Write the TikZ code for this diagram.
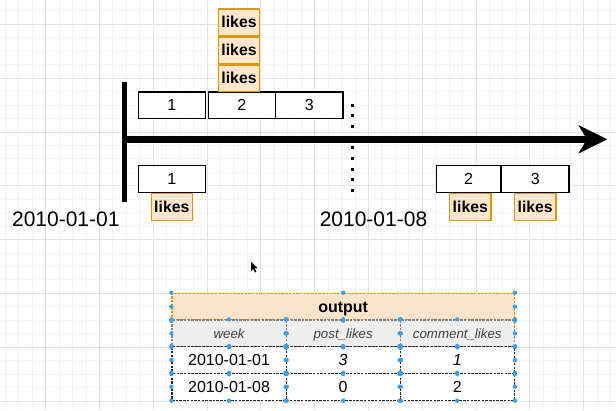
\documentclass[tikz,border=0pt]{standalone}
\usepackage{fontspec}
\setmainfont{Liberation Sans}
\usetikzlibrary{positioning}

\definecolor{likesfill}{HTML}{FFE6CC}
\definecolor{likesline}{HTML}{D79B00}
\definecolor{headfill}{HTML}{FCE3CB}
\definecolor{colfill}{HTML}{EEEEEE}
\definecolor{handle}{HTML}{429EE2}
\definecolor{gridminor}{HTML}{F3F3F3}
\definecolor{gridmajor}{HTML}{E2E2E2}

\begin{document}
\begin{tikzpicture}[x=1pt,y=-1pt,
  cell/.style={draw=black,line width=1.2pt,fill=white,minimum height=26.7pt,inner sep=0pt,font=\fontsize{16}{18}\selectfont},
  likes/.style={draw=likesline,line width=1.3pt,fill=likesfill,minimum width=41.3pt,minimum height=26.7pt,inner sep=0pt,font=\fontsize{15.8}{18}\selectfont\bfseries},
  date/.style={inner sep=0pt,font=\fontsize{21}{24}\selectfont},
  tabcell/.style={minimum width=114.1pt,minimum height=26.7pt,inner sep=0pt,text height=11.4pt,text depth=0pt,line width=1.2pt,dash pattern=on 2.5pt off 1.2pt,font=\fontsize{16}{18}\selectfont},
  colhead/.style={tabcell,draw=black!50,fill=colfill,text height=9.5pt,font=\fontsize{13.3}{16}\selectfont\itshape,text=black!75},
  datacell/.style={tabcell,draw=black!85,fill=white}]
\useasboundingbox (0,0) rectangle (616,410);

% Grid
\foreach \i in {0,...,45} \draw[gridminor,line width=0.8pt] ({5.2+13.45*\i},0) -- ({5.2+13.45*\i},410);
\foreach \i in {0,...,30} \draw[gridminor,line width=0.8pt] (0,{10.85+13.45*\i}) -- (616,{10.85+13.45*\i});
\foreach \i in {0,...,10} \draw[gridmajor,line width=0.8pt] ({45.5+53.8*\i},0) -- ({45.5+53.8*\i},410);
\foreach \i in {0,...,7} \draw[gridmajor,line width=0.8pt] (0,{24.3+53.8*\i}) -- (616,{24.3+53.8*\i});

% Timeline
\coordinate (bartop) at (124.5,81.7);
\coordinate (barbot) at (124.5,202.3);
\coordinate (origin) at (124.5,139.3);
\coordinate (lineend) at (588,139.3);
\coordinate (tip) at (607.3,139.3);
\coordinate (dottop) at (352.7,103.5);
\coordinate (dotbot) at (352.7,192.5);
\draw[line width=3pt,dash pattern=on 3pt off 7.7pt] (dottop) -- (dotbot);
\draw[line width=5.7pt] (bartop) -- (barbot);
\draw[line width=6.5pt] (origin) -- (lineend);
\fill (tip) -- (578.3,125) -- (587,139.3) -- (578.3,153.6) -- cycle;

% Posts
\node[cell,minimum width=67pt] (t1) at (171.8,105.3) {1};
\node[cell,minimum width=67.2pt] (t2) at (241.9,105.3) {2};
\node[cell,minimum width=67.5pt] (t3) at (309.2,105.3) {3};
\node[likes] (tl1) at (239,78.3) {likes};
\node[likes,above=0pt of tl1] (tl2) {likes};
\node[likes,above=0pt of tl2] (tl3) {likes};

% Comments
\node[cell,minimum width=67pt] (b1) at (171.8,179.1) {1};
\node[likes,below=0pt of b1] (bl1) {likes};
\node[cell,minimum width=63.6pt] (b2) at (468.5,179.1) {2};
\node[cell,minimum width=67.4pt,right=0pt of b2] (b3) {3};
\node[likes,below=0pt of b2,xshift=1.8pt] (bl2) {likes};
\node[likes,below=0pt of b3] (bl3) {likes};

% Dates
\node[date] (d1) at (65.8,219) {2010-01-01};
\node[date] (d2) at (373.5,219.3) {2010-01-08};

% Output table
\node[tabcell,minimum width=342.3pt,draw=likesline,fill=headfill,font=\fontsize{16}{18}\selectfont\bfseries] (out) at (343.15,306.65) {output};
\node[colhead] (h1) at (229.05,333.35) {week};
\node[colhead] (h2) at (343.15,333.35) {post\_likes};
\node[colhead] (h3) at (457.25,333.35) {comment\_likes};
\node[datacell] (r1c1) at (229.05,360.05) {2010-01-01};
\node[datacell] (r1c2) at (343.15,360.05) {\itshape 3};
\node[datacell] (r1c3) at (457.25,360.05) {\itshape 1};
\node[datacell] (r2c1) at (229.05,386.75) {2010-01-08};
\node[datacell] (r2c2) at (343.15,386.75) {0};
\node[datacell] (r2c3) at (457.25,386.75) {2};

% Handles
\foreach \n in {out,h1,h2,h3,r1c1,r1c2,r1c3,r2c1,r2c2,r2c3}
  \foreach \a in {north west,north,north east,east,south east,south,south west,west}
    \fill[handle] (\n.\a) circle (2.2pt);

% Cursor
\fill (251,261.7) -- (251,271) -- (253.2,269) -- (255,272.5) -- (256.3,271.8) -- (254.6,268.4) -- (257.5,268.2) -- cycle;
\end{tikzpicture}
\end{document}
